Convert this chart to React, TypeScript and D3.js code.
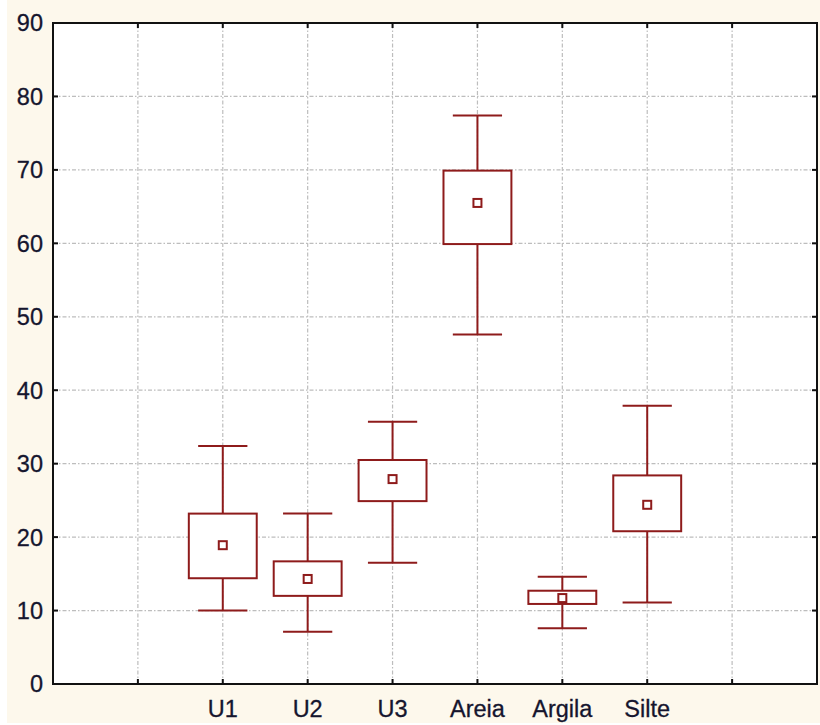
import * as d3 from "d3";

// categories along x (blank slots at both ends carry only grid lines)
const slots = ["s0", "U1", "U2", "U3", "Areia", "Argila", "Silte", "s7"];
const categories = ["U1", "U2", "U3", "Areia", "Argila", "Silte"];
const whiskerLow = [10.0, 7.1, 16.5, 47.6, 7.6, 11.1];
const boxLow = [14.4, 12.0, 24.9, 59.9, 10.9, 20.8];
const means = [18.9, 14.3, 27.9, 65.5, 11.7, 24.4];
const boxHigh = [23.2, 16.7, 30.5, 69.9, 12.7, 28.4];
const whiskerHigh = [32.4, 23.2, 35.7, 77.4, 14.6, 37.9];
const yTicks = [0, 10, 20, 30, 40, 50, 60, 70, 80, 90];

const W = 820;
const H = 725;
const margin = { top: 23, right: 3, bottom: 41, left: 53 };
const color = "#8e1b1b";
const font = "'Liberation Sans', Arial, sans-serif";

export default function App() {
  const x = d3
    .scalePoint<string>()
    .domain(slots)
    .range([margin.left, W - margin.right])
    .padding(1);
  const y = d3
    .scaleLinear()
    .domain([0, 90])
    .range([H - margin.bottom, margin.top]);
  const step = x.step();
  const boxW = step * 0.8;
  const capW = step * 0.58;
  const x0 = margin.left;
  const x1 = W - margin.right;
  const y0 = H - margin.bottom;
  const y1 = margin.top;

  return (
    <svg
      width={W}
      height={H}
      style={{ position: "absolute", left: 0, top: 0 }}
    >
      <rect x={7} y={0} width={W - 7} height={H - 2} fill="#fdf8ec" />
      <rect x={x0} y={y1} width={x1 - x0} height={y0 - y1} fill="#fff" />

      {/* grid */}
      {yTicks.slice(1, -1).map((t) => (
        <line
          key={"gy" + t}
          x1={x0}
          x2={x1}
          y1={y(t)}
          y2={y(t)}
          stroke="#bdbdbd"
          strokeWidth={1.2}
          strokeDasharray="4,2,1.5,2"
        />
      ))}
      {slots.map((s) => (
        <line
          key={"gx" + s}
          x1={x(s)}
          x2={x(s)}
          y1={y0}
          y2={y1}
          stroke="#bdbdbd"
          strokeWidth={1.2}
          strokeDasharray="4,2,1.5,2"
        />
      ))}

      {/* boxes */}
      {categories.map((c, i) => {
        const cx = x(c)!;
        return (
          <g key={c} stroke={color} strokeWidth={2} fill="none">
            <line x1={cx} x2={cx} y1={y(whiskerHigh[i])} y2={y(boxHigh[i])} />
            <line x1={cx} x2={cx} y1={y(boxLow[i])} y2={y(whiskerLow[i])} />
            <line
              x1={cx - capW / 2}
              x2={cx + capW / 2}
              y1={y(whiskerHigh[i])}
              y2={y(whiskerHigh[i])}
            />
            <line
              x1={cx - capW / 2}
              x2={cx + capW / 2}
              y1={y(whiskerLow[i])}
              y2={y(whiskerLow[i])}
            />
            <rect
              x={cx - boxW / 2}
              y={y(boxHigh[i])}
              width={boxW}
              height={y(boxLow[i]) - y(boxHigh[i])}
              fill="#fff"
            />
            <rect
              x={cx - 4}
              y={y(means[i]) - 4}
              width={8}
              height={8}
              fill="#fff"
            />
          </g>
        );
      })}

      {/* frame and ticks */}
      <rect
        x={x0}
        y={y1}
        width={x1 - x0}
        height={y0 - y1}
        fill="none"
        stroke="#111"
        strokeWidth={2}
      />
      {slots.map((s) => (
        <g key={"tx" + s} stroke="#111" strokeWidth={2}>
          <line x1={x(s)} x2={x(s)} y1={y0} y2={y0 - 5} />
          <line x1={x(s)} x2={x(s)} y1={y1} y2={y1 + 5} />
        </g>
      ))}
      {yTicks.map((t) => (
        <g key={"ty" + t} stroke="#111" strokeWidth={2}>
          <line x1={x0} x2={x0 + 5} y1={y(t)} y2={y(t)} />
          <line x1={x1} x2={x1 - 5} y1={y(t)} y2={y(t)} />
        </g>
      ))}

      {/* labels */}
      {yTicks.map((t) => (
        <text
          key={"ly" + t}
          x={x0 - 10}
          y={y(t)}
          dy="0.36em"
          textAnchor="end"
          fontFamily={font}
          fontSize={23.5}
          fill="#15152e"
          stroke="#15152e"
          strokeWidth={0.3}
        >
          {t}
        </text>
      ))}
      {categories.map((c) => (
        <text
          key={"lx" + c}
          x={x(c)}
          y={717}
          textAnchor="middle"
          fontFamily={font}
          fontSize={23.5}
          fill="#15152e"
          stroke="#15152e"
          strokeWidth={0.3}
        >
          {c}
        </text>
      ))}
    </svg>
  );
}
